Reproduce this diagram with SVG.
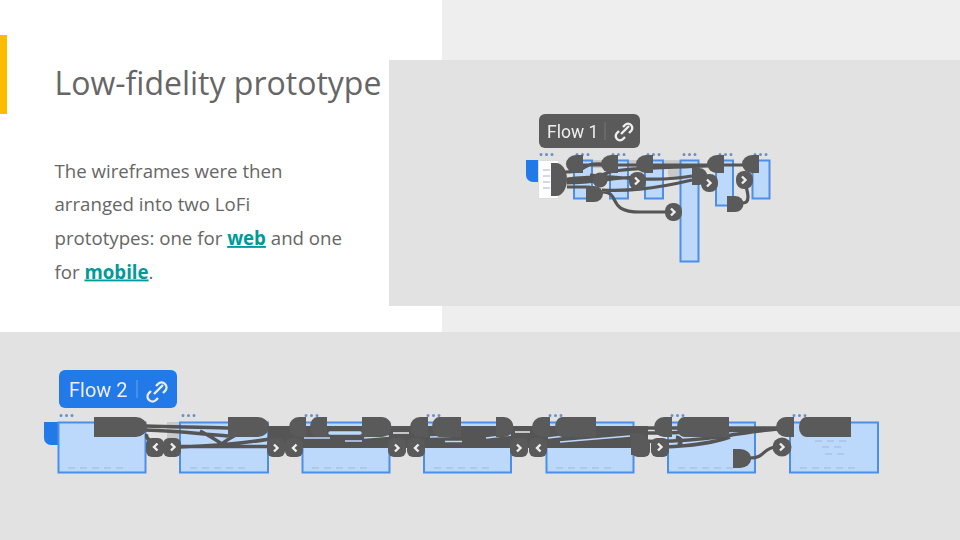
<svg xmlns="http://www.w3.org/2000/svg" width="960" height="540" viewBox="0 0 960 540">
<defs><filter id="soft" x="-5%" y="-5%" width="110%" height="110%"><feGaussianBlur stdDeviation="0.45"/></filter></defs>
<style>
.t{font-family:"Open Sans","Noto Sans",sans-serif;fill:#666666}
.b{font-size:18.67px}
.l{font-weight:700;fill:#009a98;text-decoration:underline}
.s{fill:#bcd8fb;stroke:#4c8fe8;stroke-width:2}
.d{fill:#5a5a5a}
.c{fill:none;stroke:#555;stroke-width:3.200}
.c2{fill:none;stroke:#555;stroke-width:3.500}
.ch{fill:none;stroke:#eee;stroke-width:2.400}
.dots{fill:none;stroke:#6a8fc4;stroke-width:3;stroke-linecap:round;stroke-dasharray:0 5.500}
.fl{font-family:"Roboto","Inter",sans-serif}
.gh{fill:#c9c9c9}
.m{fill:none;stroke:#a3b8d2;stroke-width:1;stroke-dasharray:7 5}
</style>
<rect width="960" height="540" fill="#fff"/>
<rect x="442" y="0" width="518" height="540" fill="#eeeeee"/>
<rect x="389" y="60" width="571" height="246" fill="#e2e2e2"/>
<rect x="0" y="332" width="960" height="208" fill="#e2e2e2"/>
<rect x="0" y="35" width="7" height="79" fill="#ffbb00"/>
<text class="t" x="54.500" y="95" font-size="32">Low-fidelity prototype</text>
<g class="t b">
<text x="54.500" y="177.500">The wireframes were then</text>
<text x="54.500" y="211">arranged into two LoFi</text>
<text x="54.500" y="245">prototypes: one for <tspan class="l">web</tspan> and one</text>
<text x="54.500" y="278.500">for <tspan class="l">mobile</tspan>.</text>
</g>
<g id="flow1" filter="url(#soft)">
<g id="flow1-label"><rect x="539" y="114" width="101" height="34" rx="6" fill="#5a5a5a"/><text class="fl" x="547" y="138" font-size="17.500" fill="#eee">Flow 1</text><path d="M605 122V140" stroke="#777"/><path d="M621 134l8-8M619 131l-2 2a4 4 0 0 0 6 6l2-2M629 133l2-2a4 4 0 0 0-6-6l-2 2" class="ch"/></g>
<g id="f1-start"><path d="M526 160h13v22h-6a7 7 0 0 1-7-7z" fill="#2479e8"/><rect x="538.500" y="160.500" width="20" height="38" fill="#fdfdfd" stroke="#ddd"/><path class="m" d="M543 170h8M543 176h8M543 182h8M543 188h8" stroke-dasharray="none"/></g>
<path class="gh" d="M668 160h12v20h-5a7 7 0 0 1-7-7zM592 160h10v8h-10zM628 160h10v8h-10zM663 160h5v8h-5z"/>
<g id="f1-s1"><rect class="s" x="574" y="160.500" width="18" height="38"/></g>
<g id="f1-s2"><rect class="s" x="610" y="160.500" width="18" height="38"/></g>
<g id="f1-s3"><rect class="s" x="645" y="160.500" width="18" height="38"/></g>
<g id="f1-s4"><rect class="s" x="680.500" y="160.500" width="18" height="101"/></g>
<g id="f1-s5"><rect class="s" x="716" y="160.500" width="17" height="45"/></g>
<g id="f1-s6"><rect class="s" x="752.500" y="160.500" width="17" height="38"/></g>
<path class="dots" d="M541 154.500h12M577 154.500h12M613 154.500h12M648 154.500h12M684 154.500h12M720 154.500h12M755 154.500h12"/>
<g id="f1-conn">
<path class="c" d="M565 172C590 172 578 163 602 164M582 165H750M567 179C590 176 590 180 610 172C625 168 660 168 708 166M567 183C595 183 610 178 637 177M590 175C620 178 660 182 692 176M567 180C590 180 595 178 602 178M567 187H590M602 190C625 191 650 190 692 180M602 192C622 192 605 212 640 212H668M743 203C752 203 746 188 746 186M723 165H745M707 183H716"/>
</g>
<g id="f1-nodes" class="d">
<path d="M551 163h5a11 16.500 0 0 1 11 16.500 11 16.500 0 0 1-11 16.500h-5z"/>
<path d="M583 155v18h-7a10 9 0 0 1-10-9 10 9 0 0 1 10-9z"/>
<path d="M618 155v18h-7a10 9 0 0 1-10-9 10 9 0 0 1 10-9z"/>
<path d="M653 155v18h-7a10 9 0 0 1-10-9 10 9 0 0 1 10-9z"/>
<path d="M724 155v18h-7a10 9 0 0 1-10-9 10 9 0 0 1 10-9z"/>
<path d="M759 155v18h-7a10 9 0 0 1-10-9 10 9 0 0 1 10-9z"/>
<path d="M586 186h8a9 8 0 0 1 9 8 9 8 0 0 1-9 8h-8z"/>
<path d="M692 168h7a8.500 8.500 0 0 1 0 17h-7z"/>
<path d="M727 196h8a8.500 8 0 0 1 0 16h-8z"/>
<circle cx="600" cy="180" r="7.500"/><rect x="629" y="172" width="17" height="18" rx="8"/><rect x="701" y="174" width="17" height="18" rx="8"/><rect x="736" y="171" width="17" height="18" rx="8"/><rect x="665" y="203" width="17" height="18" rx="8"/>
</g>
<path class="ch" d="M635 177.500l3.500 3.500-3.500 3.500M707 179.500l3.500 3.500-3.500 3.500M742 176.500l3.500 3.500-3.500 3.500M671 208.500l3.500 3.500-3.500 3.500"/>
</g>
<g id="flow2" filter="url(#soft)">
<g id="flow2-label"><rect x="59" y="370" width="118" height="38" rx="6" fill="#2479e8"/><text class="fl" x="69" y="397" font-size="20" fill="#eef">Flow 2</text><path d="M137 380V398" stroke="#6ba3ef"/><path d="M154 394l9-9M151 391l-2 2a4.500 4.500 0 0 0 7 7l2-2M163 393l2-2a4.500 4.500 0 0 0-7-7l-2 2" class="ch"/></g>
<path d="M44 422h14v23h-7a7 7 0 0 1-7-7z" fill="#2479e8"/>
<rect class="gh" x="167" y="422" width="13" height="25"/>
<g id="f2-s1"><rect class="s" x="58.500" y="422.500" width="87" height="50"/></g>
<g id="f2-s2"><rect class="s" x="180" y="422.500" width="88" height="50"/></g>
<g id="f2-s3"><rect class="s" x="302.500" y="422.500" width="87" height="50"/></g>
<g id="f2-s4"><rect class="s" x="424" y="422.500" width="87" height="50"/></g>
<g id="f2-s5"><rect class="s" x="546.500" y="422.500" width="87" height="50"/></g>
<g id="f2-s6"><rect class="s" x="668" y="422.500" width="87" height="50"/></g>
<g id="f2-s7"><rect class="s" x="790" y="422.500" width="88" height="50"/></g>
<path class="m" d="M68 468h60M190 468h60M312 468h60M434 468h60M556 468h60M678 468h60M800 468h60"/>
<path class="m" d="M815 441h36M822 447h24M825 454h24" stroke-dasharray="none"/>
<path class="dots" d="M61 415.500h12M183 415.500h12M306 415.500h12M428 415.500h12M550 415.500h12M672 415.500h12M794 415.500h12"/>
<g id="f2-conn">
<path class="c2" d="M145 426C180 427 200 427 228 428M145 430C180 431 200 434 228 436M180 447C210 446 240 444 270 439M180 446.500H270M200 431C210 436 216 440 222 444C226 440 232 437 238 434"/>
<path class="c2" d="M150 440C145 438 147 434 147 434"/>
<path stroke="#555" stroke-width="22" fill="none" d="M268 437H648"/>
<path class="c2" d="M645 428H790M645 433C690 433 720 431 780 428M640 441C660 442 690 441 725 436C745 433 760 430 780 429M664 447C690 446 710 444 730 437M676 437C682 438 683 443 678 445"/>
<path class="c" d="M750 458C766 458 762 448 776 447"/>
</g>
<path fill="none" stroke="#bcd8fb" stroke-width="1.600" d="M304 438H330M345 441H362M364 438L389 436M430 437L460 436M445 441.500H462M486 438L511 435M548 438L590 433M560 442L630 436"/>
<path fill="none" stroke="#bcd8fb" stroke-width="3.500" stroke-linecap="round" d="M330 433H360"/>
<path fill="none" stroke="#ececec" stroke-width="1.600" d="M393 433H409M515 432H530"/>
<g id="f2-nodes" class="d">
<path d="M94 417h42a11 10 0 0 1 0 20h-42z"/>
<path d="M228 417h30a11 10 0 0 1 0 20h-30z"/>
<path d="M306 417v20h-7a10 10 0 0 1 0-20z"/><path d="M327 417v20h-10a7 10 0 0 1 0-20z"/>
<path d="M362 417h20a9.500 10 0 0 1 0 20h-20z"/>
<path d="M428 417v20h-8a10 10 0 0 1 0-20z"/><path d="M461 417v20h-22a7 10 0 0 1 0-20z"/>
<path d="M496 417h8a9.500 10 0 0 1 0 20h-8z"/>
<path d="M550 417v20h-8a10 10 0 0 1 0-20z"/><path d="M596 417v20h-34a7 10 0 0 1 0-20z"/>
<path d="M672 417v20h-8a10 10 0 0 1 0-20z"/><path d="M729 417v20h-45a7 10 0 0 1 0-20z"/>
<path d="M794 417v20h-8a10 10 0 0 1 0-20z"/><path d="M851 417v20h-45a7 10 0 0 1 0-20z"/>
<path d="M733 449h7a11 9.500 0 0 1 0 19h-7z"/>
<path d="M631 433h8a10 10 0 0 1 10 10v12h-18z"/>
<rect x="146" y="438" width="18" height="19" rx="6"/><rect x="163" y="438" width="18" height="19" rx="6"/><rect x="267" y="438" width="18" height="19" rx="6"/><rect x="285" y="438" width="18" height="19" rx="6"/><rect x="388" y="438" width="18" height="19" rx="6"/><rect x="407" y="438" width="18" height="19" rx="6"/><rect x="510" y="438" width="18" height="19" rx="6"/><rect x="529" y="438" width="18" height="19" rx="6"/><rect x="632" y="438" width="18" height="19" rx="6"/><rect x="651" y="438" width="18" height="19" rx="6"/>
<circle cx="782" cy="447" r="9.500"/>
</g>
<path class="ch" d="M157.500 443.500l-3.500 3.500 3.500 3.500M171 443.500l3.500 3.500-3.500 3.500M274 444.500l3.500 3.500-3.500 3.500M296.500 444.500l-3.500 3.500 3.500 3.500M395 444.500l3.500 3.500-3.500 3.500M418.500 444.500l-3.500 3.500 3.500 3.500M517 444.500l3.500 3.500-3.500 3.500M540.500 444.500l-3.500 3.500 3.500 3.500M658 443.500l3.500 3.500-3.500 3.500M780 443.500l3.500 3.500-3.500 3.500"/>
</g>
</svg>
